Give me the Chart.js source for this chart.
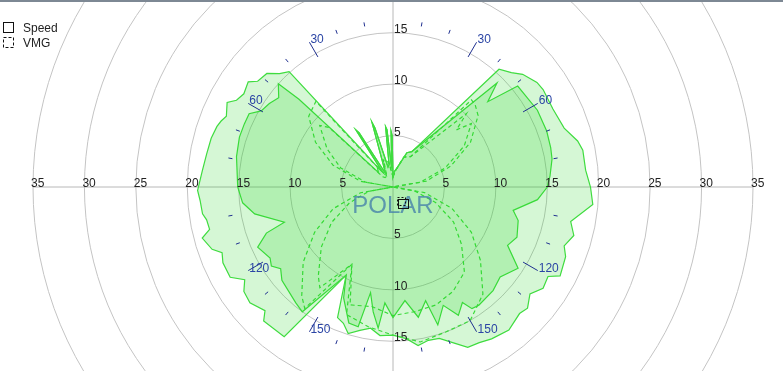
<!DOCTYPE html>
<html>
<head>
<meta charset="utf-8">
<script src="https://cdn.jsdelivr.net/npm/chart.js@4.4.0/dist/chart.umd.min.js"></script>
<style>
  html, body { margin: 0; padding: 0; background: #fff; overflow: hidden; }
  #wrap { position: relative; width: 783px; height: 371px; overflow: hidden; }
  #polar { position: absolute; left: 0; top: -173px; }
  #bar { position: absolute; left: 0; top: 0; width: 783px; height: 2px; background: #7d8894; }
</style>
</head>
<body>
<div id="wrap">
  <canvas id="polar" width="786" height="720"></canvas>
  <div id="bar"></div>
</div>
<script>
// true wind angle (deg, clockwise from bow) -> boat speed (kn)
const outerAngles = [0, 5, 12, 22, 28, 42, 46, 49, 54, 57, 64, 71, 76, 79, 85, 90, 95, 101, 105, 109,
  112, 118, 120, 124, 128, 132, 135, 141, 147, 151, 155, 159, 163, 167, 171, 175, 180, 185, 189, 193,
  197, 200, 203, 208, 216, 224, 226, 231, 235, 238, 241, 246, 249, 251, 255, 257, 260, 262, 266, 269,
  275, 280, 285, 289, 291, 293, 297, 299, 302, 306, 308, 312, 315, 318, 320, 322, 325, 327, 328, 331,
  337, 342, 343, 346, 350, 353, 354, 356, 358, 359];
const outerSpeed = [1.0, 1.5, 1.9, 3.6, 3.9, 15.4, 16.0, 16.7, 17.3, 17.4, 17.3, 17.6, 18.5, 18.8, 18.8, 19.2, 19.5, 17.6, 18.2, 17.6,
  18.1, 18.4, 17.4, 17.6, 16.9, 17.6, 17.4, 17.9, 17.6, 17.3, 17.2, 16.2, 15.4, 15.3, 15.6, 14.8, 14.4, 14.5, 13.9, 14.3,
  14.9, 14.1, 13.8, 9.7, 18.0, 18.1, 17.3, 17.9, 17.7, 17.0, 18.1, 18.1, 17.8, 18.6, 19.2, 18.3, 18.4, 18.7, 18.8, 19.0,
  18.6, 18.4, 18.3, 18.1, 17.9, 17.6, 18.1, 17.4, 17.1, 17.4, 16.7, 16.5, 15.6, 15.1, 4.6, 2.5, 1.8, 6.6, 6.2, 1.5,
  2.5, 6.6, 6.0, 2.0, 2.2, 5.9, 5.6, 1.8, 5.4, 5.0];

const innerAngles = [0, 5, 12, 22, 28, 45, 48, 51, 62, 70, 76, 80, 86, 90, 95, 101, 105, 112, 117, 123,
  130, 136, 144, 147, 149, 153, 157, 162, 164, 169, 174, 180, 184, 186, 189, 192, 194, 198, 204, 208,
  216, 220, 230, 234, 237, 240, 246, 250, 252, 259, 264, 270, 281, 288, 293, 297, 300, 304, 308, 312,
  313, 315, 322, 325, 327, 328, 331, 337, 342, 343, 346, 350, 353, 354, 356, 358, 359];
const innerSpeed = [1.0, 1.5, 1.9, 3.6, 3.9, 14.3, 12.4, 15.6, 15.9, 15.9, 15.8, 15.7, 15.3, 15.0, 14.1, 11.9, 12.6, 13.0, 12.5, 14.5,
  13.6, 14.0, 14.2, 14.1, 13.1, 14.0, 12.5, 14.1, 11.5, 12.9, 11.1, 12.7, 11.3, 13.8, 12.3, 10.5, 14.0, 13.9, 11.8, 9.7,
  15.0, 14.7, 14.1, 13.5, 14.1, 13.8, 14.4, 13.1, 11.1, 13.7, 14.7, 15.1, 15.5, 15.7, 15.7, 15.7, 14.8, 14.5, 14.1, 15.0,
  12.5, 2.0, 2.5, 1.8, 6.6, 6.2, 1.5, 2.5, 6.6, 6.0, 2.0, 2.2, 5.9, 5.6, 1.8, 5.4, 5.0];

const vmgOuterAngles = [0, 10, 20, 30, 42, 45, 50, 60, 70, 80, 90, 100, 110, 120, 130, 140, 150, 160, 170, 180,
  190, 200, 208, 216, 220, 230, 240, 250, 260, 270, 280, 290, 300, 310, 318, 320, 330, 340, 350];
const vmgOuter = [1.0, 1.7, 3.1, 3.4, 11.4, 11.3, 10.8, 8.7, 6.0, 3.3, 0, 3.1, 6.1, 8.8, 11.1, 13.6, 15.0, 15.0, 15.3, 14.4,
  13.8, 13.2, 8.5, 14.6, 13.8, 11.4, 8.8, 6.2, 3.2, 0, 3.2, 6.2, 8.7, 10.7, 11.2, 3.5, 1.3, 2.8, 2.5];

const vmgInnerAngles = [0, 10, 20, 30, 45, 48, 51, 60, 70, 80, 90, 100, 110, 120, 130, 140, 150, 160, 170, 180,
  190, 200, 208, 216, 220, 230, 240, 250, 260, 270, 280, 290, 300, 310, 313, 315, 320, 330, 340, 350];
const vmgInner = [1.0, 1.7, 3.1, 3.4, 10.1, 8.3, 9.8, 8.0, 5.4, 2.7, 0, 2.1, 4.4, 6.8, 8.7, 10.8, 11.7, 12.2, 12.3, 12.5,
  11.8, 12.2, 8.5, 12.1, 11.3, 9.1, 6.9, 4.5, 2.4, 0, 2.7, 5.4, 7.4, 9.3, 8.5, 1.4, 1.2, 1.2, 2.5, 2.5];

const ringLabels = [5, 10, 15, 20, 25, 30, 35];

// one radar spoke per degree, values only where the polar has a vertex
const degrees = Array.from({ length: 360 }, (_, i) => i);
const angleMarks = degrees.filter(d => d % 10 === 0 && d % 90 !== 0);

function toSeries(angles, values) {
  const out = degrees.map(() => null);
  angles.forEach((a, i) => { out[a] = values[i]; });
  return out;
}

const FONT = '"Liberation Sans", Arial, sans-serif';
const green = '#3fdc3f';
const fillGreen = 'rgba(30,215,30,0.19)';

const compass = {
  id: 'compass',
  afterDatasetsDraw(chart) {
    const scale = chart.scales.r;
    const ctx = chart.ctx;
    const at = (deg, v) => scale.getPointPositionForValue(deg, v);
    ctx.save();

    // speed rings along the axes
    ctx.font = '12px ' + FONT;
    ctx.fillStyle = '#222';
    ctx.textAlign = 'left';
    ctx.textBaseline = 'alphabetic';
    ringLabels.forEach(v => {
      [90, 270].forEach(deg => { const p = at(deg, v); ctx.fillText(String(v), p.x - 2, p.y); });
      [0, 180].forEach(deg => { const p = at(deg, v); ctx.fillText(String(v), p.x + 1, p.y); });
    });

    // wind angle marks
    ctx.strokeStyle = '#1f2f8f';
    ctx.fillStyle = '#2b45a5';
    ctx.lineWidth = 1;
    angleMarks.forEach(deg => {
      const major = deg % 30 === 0;
      const a = at(deg, major ? 14.6 : 15.85);
      const b = at(deg, 16.25);
      ctx.beginPath();
      ctx.moveTo(a.x, a.y);
      ctx.lineTo(b.x, b.y);
      ctx.stroke();
      if (major) ctx.fillText(String(deg <= 180 ? deg : 360 - deg), b.x + 1, b.y + 1);
    });

    // title in the middle
    ctx.font = '24px ' + FONT;
    ctx.fillStyle = 'rgba(70,130,170,0.8)';
    ctx.textAlign = 'center';
    ctx.fillText('POLAR', scale.xCenter, scale.yCenter + 26);

    // boat marker
    ctx.strokeStyle = '#111';
    ctx.setLineDash([2, 2]);
    ctx.strokeRect(scale.xCenter + 4.5, scale.yCenter + 10.5, 8, 8);
    ctx.setLineDash([]);
    ctx.strokeRect(scale.xCenter + 5.5, scale.yCenter + 12.5, 10, 9);

    // legend (page coords, canvas is shifted up by 173px)
    ctx.translate(0, 173);
    ctx.strokeRect(3.5, 22.5, 10, 10);
    ctx.setLineDash([3, 2]);
    ctx.strokeRect(3.5, 37.5, 10, 10);
    ctx.setLineDash([]);
    ctx.font = '12px ' + FONT;
    ctx.fillStyle = '#222';
    ctx.textAlign = 'left';
    ctx.fillText('Speed', 23, 32);
    ctx.fillText('VMG', 23, 47);
    ctx.restore();
  }
};

new Chart(document.getElementById('polar'), {
  type: 'radar',
  data: {
    labels: degrees.map(String),
    datasets: [
      { label: 'Speed max', data: toSeries(outerAngles, outerSpeed), borderColor: green, backgroundColor: fillGreen, borderWidth: 1.2, fill: true, spanGaps: true },
      { label: 'Speed', data: toSeries(innerAngles, innerSpeed), borderColor: green, backgroundColor: fillGreen, borderWidth: 1.2, fill: true, spanGaps: true },
      { label: 'VMG max', data: toSeries(vmgOuterAngles, vmgOuter), borderColor: green, borderDash: [4, 3], borderWidth: 1.2, fill: false, spanGaps: true },
      { label: 'VMG', data: toSeries(vmgInnerAngles, vmgInner), borderColor: green, borderDash: [4, 3], borderWidth: 1.2, fill: false, spanGaps: true }
    ]
  },
  options: {
    responsive: false,
    animation: false,
    devicePixelRatio: 1,
    events: [],
    elements: {
      point: { radius: 0, hoverRadius: 0 },
      line: { tension: 0 }
    },
    plugins: {
      legend: { display: false },
      tooltip: { enabled: false }
    },
    scales: {
      r: {
        min: 0,
        max: 35,
        ticks: { stepSize: 5, display: false },
        grid: { circular: true, color: '#c4c4c4' },
        angleLines: {
          display: true,
          color: '#b8b8b8',
          lineWidth: c => (c.index % 90 === 0 ? 1 : 0)
        },
        pointLabels: { display: false }
      }
    }
  },
  plugins: [compass]
});
</script>
</body>
</html>
